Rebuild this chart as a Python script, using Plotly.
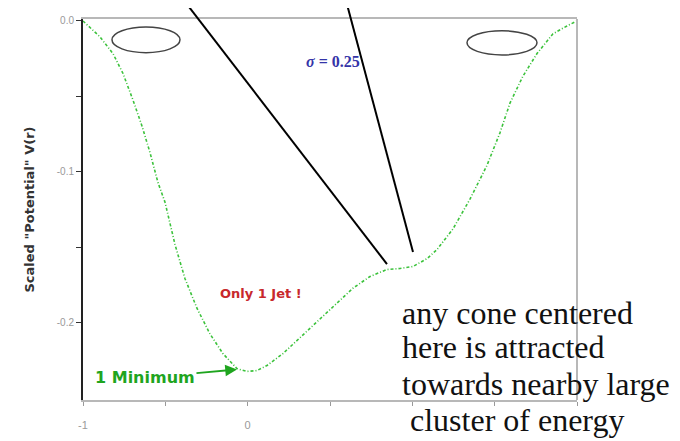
import plotly.graph_objects as go

# curve
r_vals = [-1.000, -0.897, -0.818, -0.757, -0.696, -0.642, -0.593, -0.545, -0.502,
          -0.441, -0.381, -0.308, -0.229, -0.150, -0.065, -0.004, 0.056, 0.117,
          0.214, 0.318, 0.439, 0.542, 0.639, 0.743, 0.846, 0.925, 1.004, 1.089,
          1.149, 1.247, 1.350, 1.453, 1.532, 1.593, 1.671, 1.757, 1.854, 1.939, 2.000]
v_vals = [0.0000, -0.0105, -0.0216, -0.0348, -0.0525, -0.0695, -0.0872, -0.1069, -0.1200,
          -0.1482, -0.1705, -0.1902, -0.2072, -0.2203, -0.2302, -0.2321, -0.2315, -0.2282,
          -0.2203, -0.2098, -0.1974, -0.1869, -0.1770, -0.1692, -0.1646, -0.1639, -0.1626, -0.1574,
          -0.1515, -0.1377, -0.1180, -0.0957, -0.0741, -0.0544, -0.0367, -0.0216, -0.0085, -0.0033, 0.0000]

x_ticks = [-1, -0.5, 0, 0.5, 1, 1.5, 2]
x_ticktext = ["-1", "", "0", "", "", "", ""]
y_ticks = [0, -0.05, -0.1, -0.15, -0.2]
y_ticktext = ["0.0", "", "-0.1", "", "-0.2"]

xr = [-1, 2]
yr = [-0.251, 0.0013]

# pointer lines: (x top, y top, x bottom, y bottom) in data units
pointer_lines = [(-0.369, 0.0111, 0.846, -0.161),
                 (0.603, 0.0111, 1.004, -0.153)]
# ellipses: x0, x1, y0, y1
ellipses = [(-0.824, -0.411, -0.0040, -0.0210),
            (1.332, 1.757, -0.0065, -0.0225)]

note_lines = ["any cone centered", "here is attracted",
              "towards nearby large", " cluster of energy"]
note_y = [0.229, 0.139, 0.041, -0.052]


def to_paper(x, y):
    return (x - xr[0]) / (xr[1] - xr[0]), (y - yr[0]) / (yr[1] - yr[0])


fig = go.Figure()
fig.add_trace(go.Scatter(
    x=r_vals, y=v_vals, mode="lines",
    line=dict(color="#3cc23c", width=1.6, dash="3px,2px,1px,2px"),
    showlegend=False, hoverinfo="skip"))

shapes = []
for (xa, ya, xb, yb) in pointer_lines:
    pa = to_paper(xa, ya)
    pb = to_paper(xb, yb)
    shapes.append(dict(type="line", xref="paper", yref="paper",
                       x0=pa[0], y0=pa[1], x1=pb[0], y1=pb[1],
                       line=dict(color="black", width=2)))
for (x0, x1, y0, y1) in ellipses:
    shapes.append(dict(type="circle", xref="x", yref="y",
                       x0=x0, x1=x1, y0=y0, y1=y1,
                       line=dict(color="#444444", width=1.5)))
# light frame on the right
shapes.append(dict(type="line", xref="paper", yref="paper", x0=1, x1=1, y0=0, y1=1,
                   line=dict(color="#b8b8b8", width=2)))

annotations = [
    dict(x=0.52, y=-0.027, xref="x", yref="y", text="<b><i>σ</i> = 0.25</b>", showarrow=False,
         font=dict(family="Liberation Serif", size=16, color="#3434a8")),
    dict(x=0.08, y=-0.1805, xref="x", yref="y", text="<b>Only 1 Jet !</b>", showarrow=False,
         font=dict(family="DejaVu Sans", size=13, color="#c8282c")),
    dict(x=-0.065, y=-0.2308, xref="x", yref="y", text="<b>1 Minimum</b>",
         showarrow=True, ax=-92, ay=8, arrowhead=2, arrowsize=1.3, arrowwidth=1.8,
         arrowcolor="#1fa51f",
         font=dict(family="DejaVu Sans", size=16, color="#1fa51f")),
]
for txt, yy in zip(note_lines, note_y):
    annotations.append(dict(
        x=0.642, y=yy, xref="paper", yref="paper", xanchor="left", yanchor="middle",
        align="left", showarrow=False, text=txt,
        font=dict(family="Liberation Serif", size=32, color="#111111")))

# page body adds 8px, so the figure is 8px smaller than the window
fig.update_layout(
    width=672, height=433,
    margin=dict(l=75, r=103, t=7, b=41),
    plot_bgcolor="white", paper_bgcolor="white",
    showlegend=False,
    shapes=shapes,
    annotations=annotations,
    xaxis=dict(
        range=xr, tickvals=x_ticks, ticktext=x_ticktext,
        showgrid=False, zeroline=False,
        showline=True, linecolor="#b8b8b8", linewidth=2, mirror=True,
        ticks="outside", ticklen=4, tickcolor="#999999", ticklabelstandoff=10,
        tickfont=dict(family="Liberation Sans", size=11, color="#9a9a9a")),
    yaxis=dict(
        range=yr, tickvals=y_ticks, ticktext=y_ticktext,
        showgrid=False, zeroline=False,
        showline=True, linecolor="#222222", linewidth=2,
        ticks="outside", ticklen=5, tickcolor="#333333",
        tickfont=dict(family="Liberation Sans", size=10, color="#9a9a9a"),
        title=dict(text="<b>Scaled \"Potential\" V(r)</b>", standoff=19,
                   font=dict(family="DejaVu Sans", size=13, color="#333333"))),
)

fig.write_html("out.html")
